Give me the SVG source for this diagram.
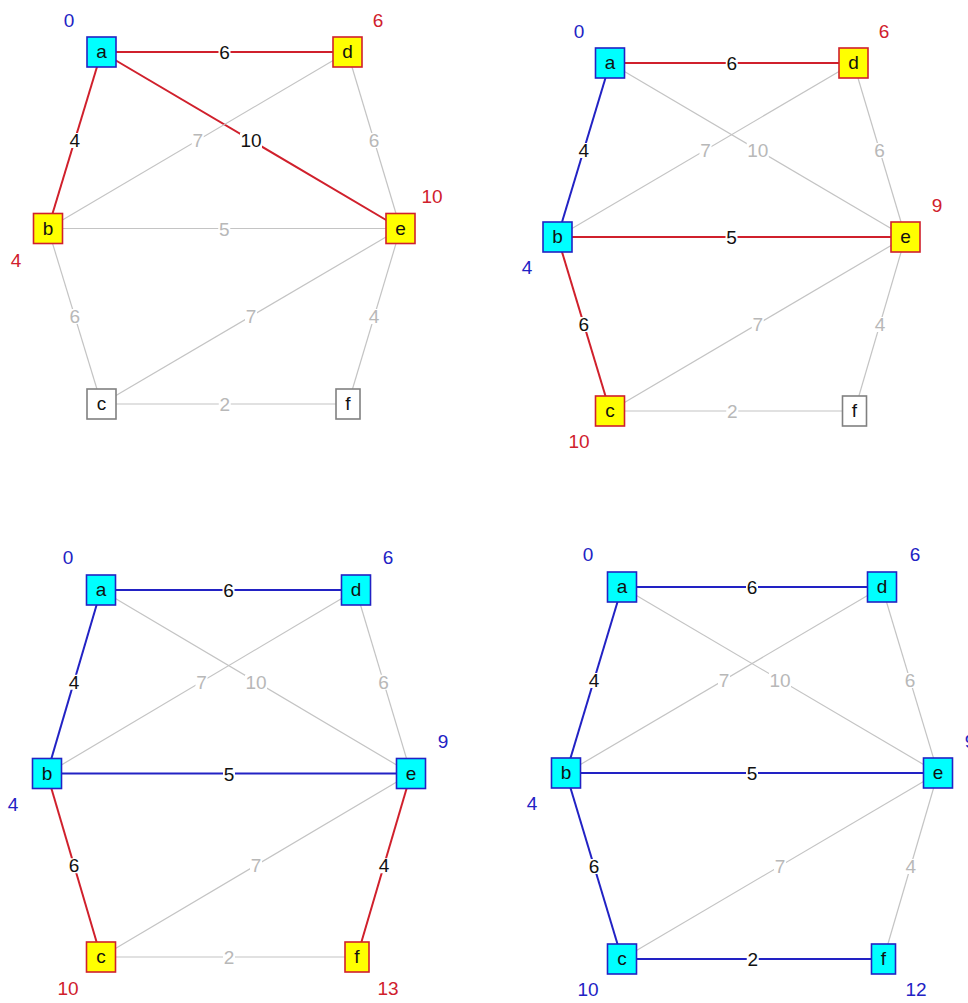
<svg xmlns="http://www.w3.org/2000/svg" width="968" height="1003" viewBox="0 0 968 1003">
<style>
text{font-family:"Liberation Sans",Arial,sans-serif;font-size:19px;text-anchor:middle}
.eg{stroke:#c4c4c4;stroke-width:1.2;fill:none}
.er{stroke:#d0202c;stroke-width:2;fill:none}
.eb{stroke:#2222c4;stroke-width:2;fill:none}
.bg{fill:#ffffff}
.lg{fill:#b8b8b8}
.ld{fill:#111111}
.nc{fill:#00ffff;stroke:#2222c4;stroke-width:1.6}
.ny{fill:#ffff00;stroke:#d0202c;stroke-width:1.6}
.nw{fill:#ffffff;stroke:#808080;stroke-width:1.6}
.nt{fill:#111111}
.db{fill:#2222c4}
.dr{fill:#d0202c}
</style>
<rect width="968" height="1003" fill="#ffffff"/>

<!-- ===== Panel 1 ===== -->
<g id="panel1">
<g id="p1-connectors">
<line class="er" x1="101.5" y1="52" x2="347.5" y2="52"/>
<line class="er" x1="101.5" y1="52" x2="48" y2="228.5"/>
<line class="er" x1="101.5" y1="52" x2="400.5" y2="228.5"/>
<line class="eg" x1="48" y1="228.5" x2="347.5" y2="52"/>
<line class="eg" x1="347.5" y1="52" x2="400.5" y2="228.5"/>
<line class="eg" x1="48" y1="228.5" x2="400.5" y2="228.5"/>
<line class="eg" x1="48" y1="228.5" x2="101.5" y2="404"/>
<line class="eg" x1="101.5" y1="404" x2="400.5" y2="228.5"/>
<line class="eg" x1="400.5" y1="228.5" x2="348" y2="404"/>
<line class="eg" x1="101.5" y1="404" x2="348" y2="404"/>
<rect class="bg" x="218.5" y="45" width="12" height="15"/><text class="ld" x="224.5" y="59">6</text>
<rect class="bg" x="68.75" y="133" width="12" height="15"/><text class="ld" x="74.75" y="147">4</text>
<rect class="bg" x="240" y="133" width="22" height="15"/><text class="ld" x="251" y="147">10</text>
<rect class="bg" x="191.75" y="133" width="12" height="15"/><text class="lg" x="197.75" y="147">7</text>
<rect class="bg" x="368" y="133" width="12" height="15"/><text class="lg" x="374" y="147">6</text>
<rect class="bg" x="218.25" y="221.5" width="12" height="15"/><text class="lg" x="224.25" y="235.5">5</text>
<rect class="bg" x="68.75" y="309" width="12" height="15"/><text class="lg" x="74.75" y="323">6</text>
<rect class="bg" x="245" y="309" width="12" height="15"/><text class="lg" x="251" y="323">7</text>
<rect class="bg" x="368" y="309" width="12" height="15"/><text class="lg" x="374" y="323">4</text>
<rect class="bg" x="218.75" y="397" width="12" height="15"/><text class="lg" x="224.75" y="411">2</text>
</g>
<g id="p1-a"><rect class="nc" x="87" y="37" width="29" height="30"/><text class="nt" x="101.5" y="58">a</text><text class="db" x="69" y="27">0</text></g>
<g id="p1-d"><rect class="ny" x="333" y="37" width="29" height="30"/><text class="nt" x="347.5" y="58">d</text><text class="dr" x="378" y="27">6</text></g>
<g id="p1-b"><rect class="ny" x="33.5" y="213.5" width="29" height="30"/><text class="nt" x="48" y="234.5">b</text><text class="dr" x="16" y="267">4</text></g>
<g id="p1-e"><rect class="ny" x="386" y="213.5" width="29" height="30"/><text class="nt" x="400.5" y="234.5">e</text><text class="dr" x="432" y="203">10</text></g>
<g id="p1-c"><rect class="nw" x="87" y="389" width="29" height="30"/><text class="nt" x="101.5" y="410">c</text></g>
<g id="p1-f"><rect class="nw" x="336" y="389" width="24" height="30"/><text class="nt" x="348" y="410">f</text></g>
</g>

<!-- ===== Panel 2 ===== -->
<g id="panel2">
<g id="p2-connectors">
<line class="er" x1="610" y1="63" x2="853.5" y2="63"/>
<line class="eb" x1="610" y1="63" x2="557.5" y2="237"/>
<line class="eg" x1="610" y1="63" x2="905.5" y2="237"/>
<line class="eg" x1="557.5" y1="237" x2="853.5" y2="63"/>
<line class="eg" x1="853.5" y1="63" x2="905.5" y2="237"/>
<line class="er" x1="557.5" y1="237" x2="905.5" y2="237"/>
<line class="er" x1="557.5" y1="237" x2="610" y2="411"/>
<line class="eg" x1="610" y1="411" x2="905.5" y2="237"/>
<line class="eg" x1="905.5" y1="237" x2="854.5" y2="411"/>
<line class="eg" x1="610" y1="411" x2="854.5" y2="411"/>
<rect class="bg" x="725.75" y="56" width="12" height="15"/><text class="ld" x="731.75" y="70">6</text>
<rect class="bg" x="577.75" y="143" width="12" height="15"/><text class="ld" x="583.75" y="157">4</text>
<rect class="bg" x="746.75" y="143" width="22" height="15"/><text class="lg" x="757.75" y="157">10</text>
<rect class="bg" x="699.5" y="143" width="12" height="15"/><text class="lg" x="705.5" y="157">7</text>
<rect class="bg" x="873.5" y="143" width="12" height="15"/><text class="lg" x="879.5" y="157">6</text>
<rect class="bg" x="725.5" y="230" width="12" height="15"/><text class="ld" x="731.5" y="244">5</text>
<rect class="bg" x="577.75" y="317" width="12" height="15"/><text class="ld" x="583.75" y="331">6</text>
<rect class="bg" x="751.75" y="317" width="12" height="15"/><text class="lg" x="757.75" y="331">7</text>
<rect class="bg" x="874" y="317" width="12" height="15"/><text class="lg" x="880" y="331">4</text>
<rect class="bg" x="726.25" y="404" width="12" height="15"/><text class="lg" x="732.25" y="418">2</text>
</g>
<g id="p2-a"><rect class="nc" x="595.5" y="48" width="29" height="30"/><text class="nt" x="610" y="69">a</text><text class="db" x="579" y="38">0</text></g>
<g id="p2-d"><rect class="ny" x="839" y="48" width="29" height="30"/><text class="nt" x="853.5" y="69">d</text><text class="dr" x="884" y="38">6</text></g>
<g id="p2-b"><rect class="nc" x="543" y="222" width="29" height="30"/><text class="nt" x="557.5" y="243">b</text><text class="db" x="527" y="274">4</text></g>
<g id="p2-e"><rect class="ny" x="891" y="222" width="29" height="30"/><text class="nt" x="905.5" y="243">e</text><text class="dr" x="937" y="212">9</text></g>
<g id="p2-c"><rect class="ny" x="595.5" y="396" width="29" height="30"/><text class="nt" x="610" y="417">c</text><text class="dr" x="579" y="448">10</text></g>
<g id="p2-f"><rect class="nw" x="842.5" y="396" width="24" height="30"/><text class="nt" x="854.5" y="417">f</text></g>
</g>

<!-- ===== Panel 3 ===== -->
<g id="panel3">
<g id="p3-connectors">
<line class="eb" x1="101" y1="590" x2="356" y2="590"/>
<line class="eb" x1="101" y1="590" x2="47" y2="773.5"/>
<line class="eg" x1="101" y1="590" x2="411" y2="773.5"/>
<line class="eg" x1="47" y1="773.5" x2="356" y2="590"/>
<line class="eg" x1="356" y1="590" x2="411" y2="773.5"/>
<line class="eb" x1="47" y1="773.5" x2="411" y2="773.5"/>
<line class="er" x1="47" y1="773.5" x2="101" y2="957"/>
<line class="eg" x1="101" y1="957" x2="411" y2="773.5"/>
<line class="er" x1="411" y1="773.5" x2="357" y2="957"/>
<line class="eg" x1="101" y1="957" x2="357" y2="957"/>
<rect class="bg" x="222.5" y="583" width="12" height="15"/><text class="ld" x="228.5" y="597">6</text>
<rect class="bg" x="68" y="674.75" width="12" height="15"/><text class="ld" x="74" y="688.75">4</text>
<rect class="bg" x="245" y="674.75" width="22" height="15"/><text class="lg" x="256" y="688.75">10</text>
<rect class="bg" x="195.5" y="674.75" width="12" height="15"/><text class="lg" x="201.5" y="688.75">7</text>
<rect class="bg" x="377.5" y="674.75" width="12" height="15"/><text class="lg" x="383.5" y="688.75">6</text>
<rect class="bg" x="223" y="766.5" width="12" height="15"/><text class="ld" x="229" y="780.5">5</text>
<rect class="bg" x="68" y="858.25" width="12" height="15"/><text class="ld" x="74" y="872.25">6</text>
<rect class="bg" x="250" y="858.25" width="12" height="15"/><text class="lg" x="256" y="872.25">7</text>
<rect class="bg" x="378" y="858.25" width="12" height="15"/><text class="ld" x="384" y="872.25">4</text>
<rect class="bg" x="223" y="950" width="12" height="15"/><text class="lg" x="229" y="964">2</text>
</g>
<g id="p3-a"><rect class="nc" x="86.5" y="575" width="29" height="30"/><text class="nt" x="101" y="596">a</text><text class="db" x="68" y="564">0</text></g>
<g id="p3-d"><rect class="nc" x="341.5" y="575" width="29" height="30"/><text class="nt" x="356" y="596">d</text><text class="db" x="388" y="564">6</text></g>
<g id="p3-b"><rect class="nc" x="32.5" y="758.5" width="29" height="30"/><text class="nt" x="47" y="779.5">b</text><text class="db" x="13" y="811">4</text></g>
<g id="p3-e"><rect class="nc" x="396.5" y="758.5" width="29" height="30"/><text class="nt" x="411" y="779.5">e</text><text class="db" x="443" y="748">9</text></g>
<g id="p3-c"><rect class="ny" x="86.5" y="942" width="29" height="30"/><text class="nt" x="101" y="963">c</text><text class="dr" x="68" y="995">10</text></g>
<g id="p3-f"><rect class="ny" x="345" y="942" width="24" height="30"/><text class="nt" x="357" y="963">f</text><text class="dr" x="388" y="995">13</text></g>
</g>

<!-- ===== Panel 4 ===== -->
<g id="panel4">
<g id="p4-connectors">
<line class="eb" x1="622" y1="587" x2="882" y2="587"/>
<line class="eb" x1="622" y1="587" x2="566" y2="773"/>
<line class="eg" x1="622" y1="587" x2="938" y2="773"/>
<line class="eg" x1="566" y1="773" x2="882" y2="587"/>
<line class="eg" x1="882" y1="587" x2="938" y2="773"/>
<line class="eb" x1="566" y1="773" x2="938" y2="773"/>
<line class="eb" x1="566" y1="773" x2="622" y2="959"/>
<line class="eg" x1="622" y1="959" x2="938" y2="773"/>
<line class="eg" x1="938" y1="773" x2="883.5" y2="959"/>
<line class="eb" x1="622" y1="959" x2="883.5" y2="959"/>
<rect class="bg" x="746" y="580" width="12" height="15"/><text class="ld" x="752" y="594">6</text>
<rect class="bg" x="588" y="673" width="12" height="15"/><text class="ld" x="594" y="687">4</text>
<rect class="bg" x="769" y="673" width="22" height="15"/><text class="lg" x="780" y="687">10</text>
<rect class="bg" x="718" y="673" width="12" height="15"/><text class="lg" x="724" y="687">7</text>
<rect class="bg" x="904" y="673" width="12" height="15"/><text class="lg" x="910" y="687">6</text>
<rect class="bg" x="746" y="766" width="12" height="15"/><text class="ld" x="752" y="780">5</text>
<rect class="bg" x="588" y="859" width="12" height="15"/><text class="ld" x="594" y="873">6</text>
<rect class="bg" x="774" y="859" width="12" height="15"/><text class="lg" x="780" y="873">7</text>
<rect class="bg" x="904.75" y="859" width="12" height="15"/><text class="lg" x="910.75" y="873">4</text>
<rect class="bg" x="746.75" y="952" width="12" height="15"/><text class="ld" x="752.75" y="966">2</text>
</g>
<g id="p4-a"><rect class="nc" x="607.5" y="572" width="29" height="30"/><text class="nt" x="622" y="593">a</text><text class="db" x="588" y="561">0</text></g>
<g id="p4-d"><rect class="nc" x="867.5" y="572" width="29" height="30"/><text class="nt" x="882" y="593">d</text><text class="db" x="915" y="561">6</text></g>
<g id="p4-b"><rect class="nc" x="551.5" y="758" width="29" height="30"/><text class="nt" x="566" y="779">b</text><text class="db" x="532" y="810">4</text></g>
<g id="p4-e"><rect class="nc" x="923.5" y="758" width="29" height="30"/><text class="nt" x="938" y="779">e</text><text class="db" x="970" y="748">9</text></g>
<g id="p4-c"><rect class="nc" x="607.5" y="944" width="29" height="30"/><text class="nt" x="622" y="965">c</text><text class="db" x="588" y="996">10</text></g>
<g id="p4-f"><rect class="nc" x="871.5" y="944" width="24" height="30"/><text class="nt" x="883.5" y="965">f</text><text class="db" x="916" y="996">12</text></g>
</g>
</svg>
